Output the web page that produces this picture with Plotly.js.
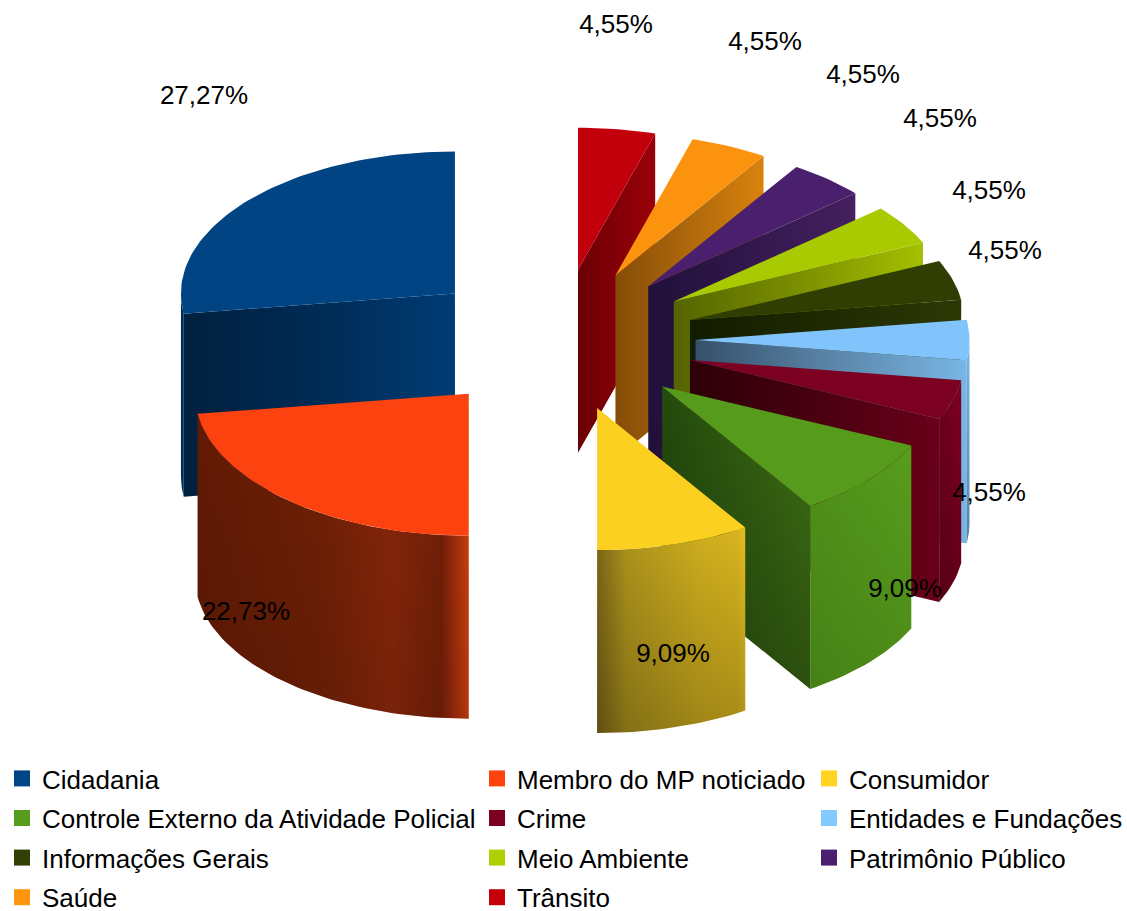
<!DOCTYPE html>
<html><head><meta charset="utf-8">
<script src="https://cdn.plot.ly/plotly-3.0.1.min.js"></script>
<style>html,body{margin:0;padding:0;background:#fff}#c{width:1127px;height:911px}</style>
</head><body><div id="c"></div>
<script>
// ---- data ----
const categories = ["Cidadania","Membro do MP noticiado","Consumidor","Controle Externo da Atividade Policial","Crime","Entidades e Fundações","Informações Gerais","Meio Ambiente","Patrimônio Público","Saúde","Trânsito"];
const counts = [6,5,2,2,1,1,1,1,1,1,1];
const colors = ["#004586","#ff420e","#ffd320","#579d1c","#7e0021","#83caff","#314004","#aecf00","#4b1f6f","#ff950e","#c5000b"];
const topColors = ["#004484","#fc420f","#fbd020","#569b1c","#7c0021","#80c4fb","#303e04","#a9c900","#4a1f6d","#fb930f","#c1000b"];
// ---- styling ----
const wallShades = [
 [[0,"#00203f"],[.5,"#002b55"],[1,"#003c74"]],
 null, null,
 [[0,"#234a0c"],[.7,"#366412"],[1,"#3e7014"]],
 [[0,"#2e0008"],[.5,"#48000f"],[1,"#6a001a"]],
 [[0,"#35506a"],[.5,"#5a85a8"],[1,"#78b6e4"]],
 [[0,"#121c00"],[1,"#2c3804"]],
 [[0,"#556400"],[.5,"#7a8f00"],[1,"#a5c000"]],
 [[0,"#20103a"],[1,"#45205f"]],
 [[0,"#854d08"],[1,"#d9830e"]],
 [[0,"#6a0005"],[1,"#9a0008"]]
];
const wallDarken = [0,0,0,.28,0,0,0,0,0,0,0];
const outerShades = [
 [[0,"#002a52"],[1,"#003060"]],
 [[0,"#621a04"],[.45,"#702006"],[.72,"#88260a"],[.9,"#742008"],[.94,"#9a2c0a"],[1,"#d0400e"]],
 [[0,"#7d6718"],[.2,"#ae941c"],[.7,"#cfae1e"],[.95,"#d8b41e"],[1,"#e2be22"]],
 [[0,"#4f921a"],[1,"#579d1c"]],
 [[0,"#6e001c"],[1,"#7e0021"]],
 [[0,"#74b0e0"],[1,"#7cbcf0"]],
 null,null,null,null,null
];
const outerDarken = [0,.12,.24,.12,.22,.28,0,0,0,0,0];
const labelX = [204,246,673,905,989,1005,989,940,863,765,616];
const labelY = [97,613,655,590,494,252,192,120,76,43,26];
const legendColumn = [1,2,3,1,2,3,1,2,3,1,2];
const legendX = {1:2,2:477,3:809};
// ---- geometry of the projected pie ----
const CX=558.5, CY=340, RX=274, RY=142, DEPTH=183, EXPLODE=.5;
const rad = d => d*Math.PI/180;
const total = counts.reduce((a,b)=>a+b,0);
const FONT = "Liberation Sans, Arial, sans-serif";

// slices run counter-clockwise from 12 o'clock
let end = 360;
const slices = counts.map((v,i)=>{
  const a1 = end, a0 = end - v/total*360; end = a0;
  const m = (a0+a1)/2;
  return {i,a0,a1,m,
    ax: CX+EXPLODE*RX*Math.sin(rad(m)),
    ay: CY-EXPLODE*RY*Math.cos(rad(m))};
});
const pt = (s,a)=>[s.ax+RX*Math.sin(rad(a)), s.ay-RY*Math.cos(rad(a))];
const arc = (s,a,b)=>{const n=Math.max(2,Math.ceil(Math.abs(b-a)/1.5)),o=[];
  for(let k=0;k<=n;k++)o.push(pt(s,a+(b-a)*k/n));return o;};
const poly = (ptsXY,name,extra)=>Object.assign({type:"scatter",mode:"lines",
  x:ptsXY.map(p=>p[0]),y:ptsXY.map(p=>p[1]),fill:"toself",line:{width:0},
  name,showlegend:false,hoverinfo:"name"},extra);
const grad=(cs,type)=>({fillgradient:{type:type||"horizontal",colorscale:cs}});
// on this reversed y axis, the vertical gradient's 0 stop is the bottom of the shape
const darken=a=>grad([[0,"rgba(0,0,0,"+a+")"],[1,"rgba(0,0,0,0)"]],"vertical");

const traces=[];
[...slices].sort((p,q)=>p.ay-q.ay).forEach(s=>{
  const name=categories[s.i];
  // visible radial wall
  const wa = s.m<180 ? s.a1 : s.a0;
  const e = pt(s,wa);
  if(wallShades[s.i]){
    const wall=[[s.ax,s.ay],e,[e[0],e[1]+DEPTH],[s.ax,s.ay+DEPTH],[s.ax,s.ay]];
    traces.push(poly(wall,name,grad(wallShades[s.i])));
    if(wallDarken[s.i]) traces.push(poly(wall,name,darken(wallDarken[s.i])));
  }
  // outer wall: only the front half of the ellipse can be seen
  const f0=Math.max(s.a0,90), f1=Math.min(s.a1,270);
  if(f1>f0 && outerShades[s.i]){
    const top=arc(s,f0,f1), bot=top.map(p=>[p[0],p[1]+DEPTH]).reverse();
    const ring=top.concat(bot,[top[0]]);
    traces.push(poly(ring,name,grad(outerShades[s.i])));
    if(outerDarken[s.i]) traces.push(poly(ring,name,darken(outerDarken[s.i])));
  }
  // top face
  const rim=arc(s,s.a0,s.a1);
  traces.push(poly([[s.ax,s.ay],...rim,[s.ax,s.ay]],name,{fillcolor:topColors[s.i]}));
});
// value labels
traces.push({type:"scatter",mode:"text",x:labelX,y:labelY,
  text:counts.map(v=>(v/total*100).toFixed(2).replace(".",",")+"%"),
  textposition:"middle center",textfont:{family:FONT,size:26,color:"#000"},
  showlegend:false,hoverinfo:"skip",cliponaxis:false});
// legend entries
categories.forEach((c,i)=>{
  const col=legendColumn[i];
  traces.push({type:"scatter",mode:"markers",x:[null],y:[null],name:c,legendgroup:"g"+i,
    legend:col===1?"legend":"legend"+col,showlegend:true,
    marker:{symbol:"square",size:16,color:colors[i],line:{width:0}}});
});
const leg=col=>({x:legendX[col]/1127,y:1-755/911,xref:"container",yref:"container",xanchor:"left",yanchor:"top",
  orientation:"v",traceorder:"grouped",tracegroupgap:2.8,bgcolor:"rgba(0,0,0,0)",borderwidth:0,
  font:{family:FONT,size:26,color:"#000"},itemclick:false,itemdoubleclick:false});
Plotly.newPlot("c",traces,{
  width:1127,height:911,margin:{l:0,r:0,t:0,b:0,autoexpand:false},
  paper_bgcolor:"#fff",plot_bgcolor:"#fff",
  xaxis:{range:[0,1127],visible:false,fixedrange:true},
  yaxis:{range:[911,0],visible:false,fixedrange:true},
  legend:leg(1),legend2:leg(2),legend3:leg(3),
  hovermode:"closest"
},{displayModeBar:false,staticPlot:false});
</script></body></html>
